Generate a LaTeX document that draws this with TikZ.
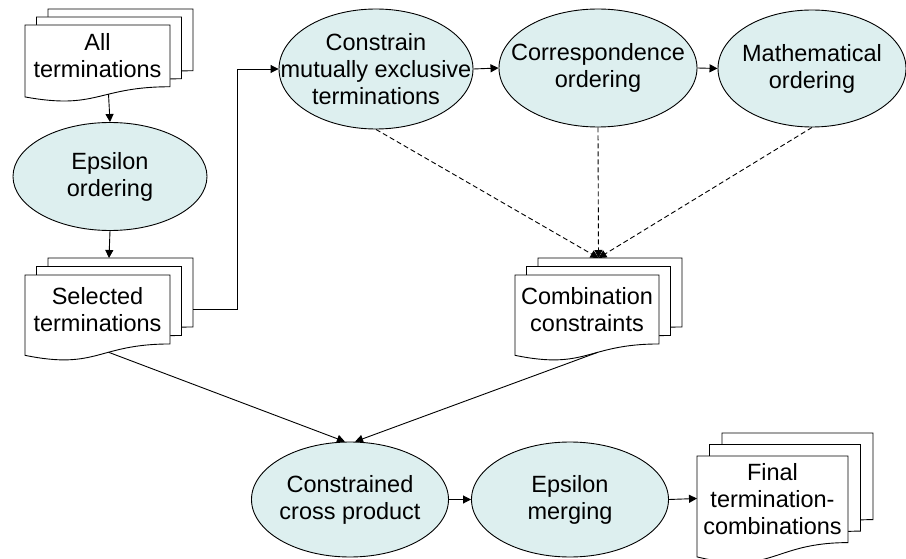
\documentclass[tikz,border=0pt]{standalone}
\usepackage{fontspec}
\setmainfont{Liberation Sans}
\usetikzlibrary{arrows.meta,shapes.geometric,calc}
\definecolor{procfill}{RGB}{221,239,239}

\tikzset{
  proc/.style={ellipse, draw, fill=procfill, line width=0.9pt, inner sep=0pt},
  lbl/.style={align=center, font=\fontsize{23.5}{27}\selectfont, inner sep=0pt},
  page/.style={draw, fill=white, line width=0.9pt, line join=miter},
  flow/.style={line width=0.9pt, -{Triangle[length=8pt,width=8pt]}},
  dflow/.style={flow, dash pattern=on 5pt off 3pt},
  hull/.style={rectangle, inner sep=0pt, outer sep=0pt},
}

% A stack of three pages with a wavy lower edge.
% #1 name, #2/#3 top left of the front page, #4 width, #5 height,
% #6/#7 offset of each page behind, #8 text on the front page.
\newcommand\multidoc[8]{%
  \foreach \k in {2,1,0}{%
    \draw[page,shift={(#2+\k*#6,#3-\k*#7)}] (0,0) -- (#4,0) -- (#4,0.802*#5)
      .. controls (0.5*#4,0.802*#5) and (0.5*#4,1.107*#5) .. (0,0.934*#5) -- cycle;
  }%
  \path[shift={(#2,#3)}] (#4,0.802*#5)
    .. controls (0.5*#4,0.802*#5) and (0.5*#4,1.107*#5) .. coordinate[pos=0.4] (#1-b) (0,0.934*#5);
  \node[hull, anchor=north west, minimum width={#4+2*#6}, minimum height={#5+2*#7}] (#1) at (#2,#3-2*#7) {};
  \node[lbl] (#1-t) at (#2+0.5*#4,#3+0.4*#5) {#8};
}

\begin{document}
\begin{tikzpicture}[x=1pt,y=-1pt]
\useasboundingbox (0,0) rectangle (906,559);

% document stacks
\multidoc{all}{25}{25}{145}{77}{11.5}{8}{All\\terminations}
\multidoc{sel}{25}{275}{145}{86}{11.5}{8.5}{Selected\\terminations}
\multidoc{comb}{515}{275}{144}{86}{11.5}{8.5}{Combination\\constraints}
\multidoc{fin}{697}{456}{151}{108}{12.5}{11.5}{Final\\termination-\\combinations}

% processes
\node[proc, minimum width=194pt, minimum height=108pt] (eps) at (110,176.5) {};
\node[lbl] (eps-t) at (eps) {Epsilon\\ordering};
\node[proc, minimum width=194pt, minimum height=120pt] (cme) at (376,69) {};
\node[lbl] (cme-t) at (cme) {Constrain\\mutually exclusive\\terminations};
\node[proc, minimum width=198pt, minimum height=118pt] (cor) at (598,68) {};
\node[lbl] (cor-t) at (cor) {Correspondence\\ordering};
\node[proc, minimum width=188pt, minimum height=117pt] (math) at (812,68.5) {};
\node[lbl] (math-t) at (math) {Mathematical\\ordering};
\node[proc, minimum width=197pt, minimum height=115pt] (ccp) at (350,499.5) {};
\node[lbl] (ccp-t) at (ccp) {Constrained\\cross product};
\node[proc, minimum width=197pt, minimum height=115pt] (em) at (570,499.5) {};
\node[lbl] (em-t) at (em) {Epsilon\\merging};

% connectors
\draw[flow] (all-b) -- (eps.north);
\draw[flow] (eps.south) -- (sel.north);
\draw[flow] (sel.east) -- ++(44,0) |- (cme.west);
\draw[flow] (cme.east) -- (cor.west);
\draw[flow] (cor.east) -- (math.west);
\draw[dflow] (cme.south) -- (comb.north);
\draw[dflow] (cor.south) -- (comb.north);
\draw[dflow] (math.south) -- (comb.north);
\draw[flow] (sel-b) -- (ccp.95);
\draw[flow] (comb-b) -- (ccp.85);
\draw[flow] (ccp.east) -- (em.west);
\draw[flow] (em.east) -- (fin.west);
\end{tikzpicture}
\end{document}
